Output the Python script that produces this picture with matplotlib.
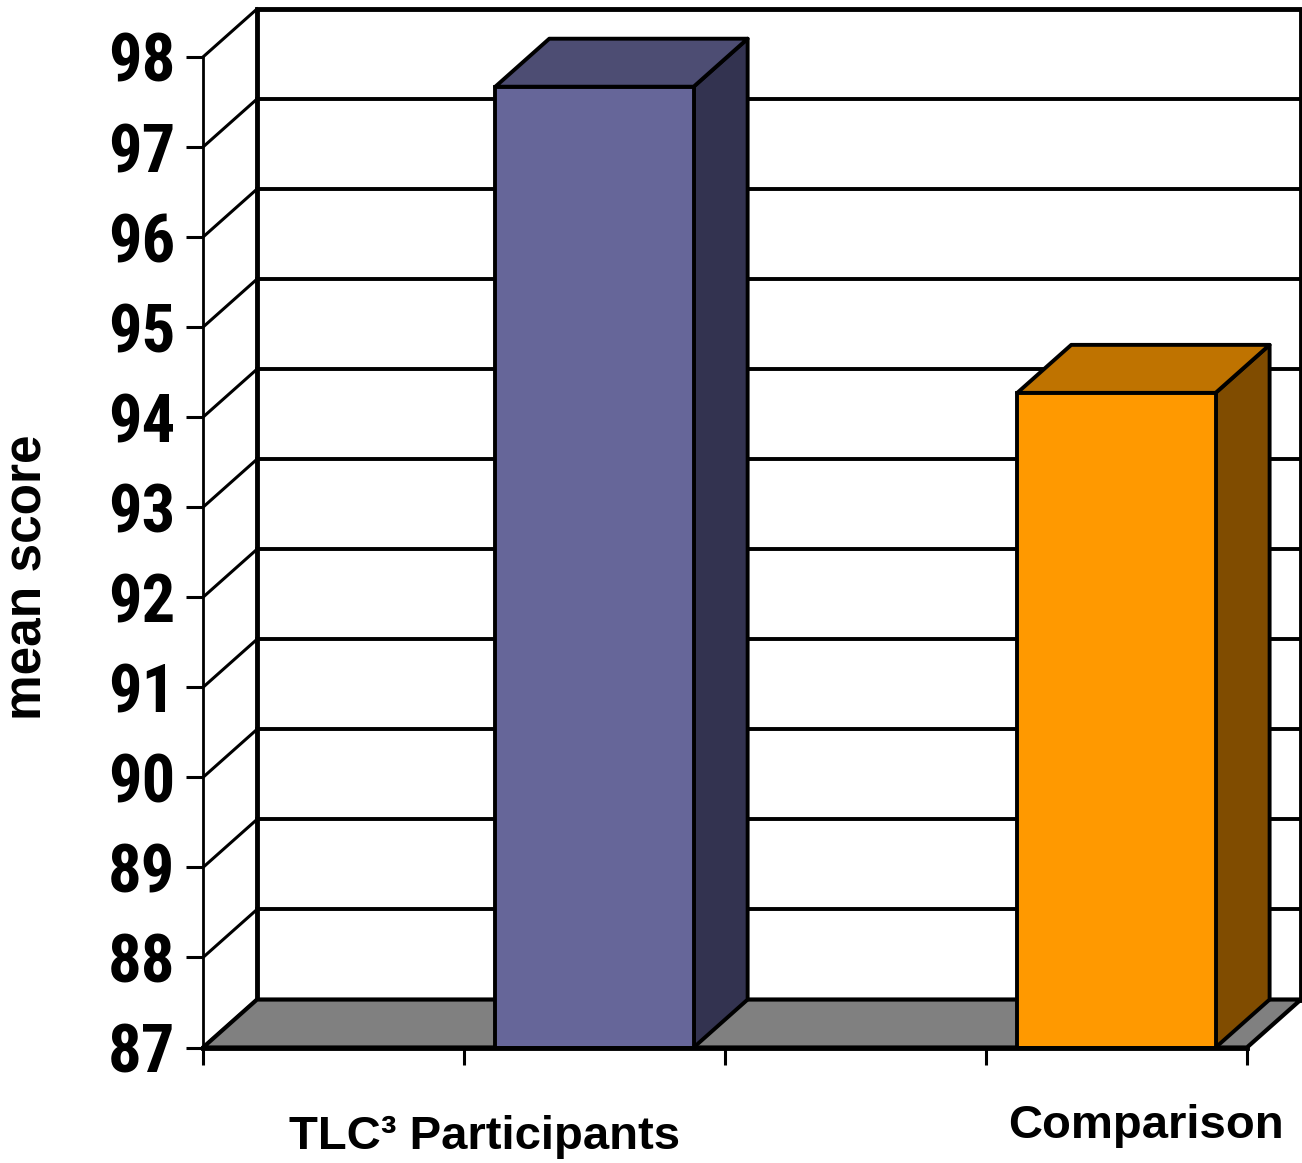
import matplotlib.pyplot as plt
from matplotlib.patches import Polygon, Rectangle

groups = ["TLC\u00b3 Participants", "Comparison"]
scores = [97.67, 94.27]
y_ticks = list(range(87, 99))

front_colors = ["#666699", "#FF9900"]
top_colors = ["#4D4D73", "#BF7300"]
side_colors = ["#333350", "#804C00"]

fig = plt.figure(figsize=(13.02, 11.63), dpi=100)
ax = fig.add_axes([0.1559, 0.0993, 0.8018, 0.8517])
ax.set_xlim(0, 2)
ax.set_ylim(87, 98)
ax.patch.set_visible(False)

# depth of the fake 3d box, in pixels, turned into data units
px_x = fig.get_figwidth() * fig.dpi * 0.8018 / 2
px_y = fig.get_figheight() * fig.dpi * 0.8517 / 11
dx = 54 / px_x
dy = 48 / px_y
base = 87

# back wall
ax.add_patch(Rectangle((dx, base + dy), 2, 11, fc="white", ec="none",
                       clip_on=False, zorder=0.5))
for v in y_ticks[1:-1]:
    ax.plot([dx, 2 + dx], [v + dy, v + dy], color="black", lw=2.8,
            clip_on=False, zorder=1)
ax.plot([dx, dx, 2 + dx, 2 + dx], [base + dy, 98 + dy, 98 + dy, base + dy],
        color="black", lw=3.5, clip_on=False, zorder=1.2, solid_joinstyle="miter")

# left side wall
for v in y_ticks:
    ax.plot([0, dx], [v, v + dy], color="black", lw=2.2, clip_on=False, zorder=1.3)

# floor
ax.add_patch(Polygon([(0, base), (2, base), (2 + dx, base + dy), (dx, base + dy)],
                     closed=True, fc="#808080", ec="black", lw=3,
                     clip_on=False, zorder=1.5, joinstyle="round"))

# bars
bar_x = [0.75, 1.75]
w = 0.38
for i, s in enumerate(scores):
    x0 = bar_x[i] - w / 2
    x1 = x0 + w
    side = [(x1, base), (x1 + dx, base + dy), (x1 + dx, s + dy), (x1, s)]
    top = [(x0, s), (x1, s), (x1 + dx, s + dy), (x0 + dx, s + dy)]
    ax.add_patch(Polygon(side, closed=True, fc=side_colors[i], ec="black",
                         lw=2.8, clip_on=False, zorder=3, joinstyle="round"))
    ax.add_patch(Polygon(top, closed=True, fc=top_colors[i], ec="black",
                         lw=2.8, clip_on=False, zorder=3, joinstyle="round"))
    ax.add_patch(Rectangle((x0, base), w, s - base, fc=front_colors[i],
                           ec="black", lw=2.8, clip_on=False, zorder=3.2,
                           joinstyle="miter"))

for sp in ["top", "right"]:
    ax.spines[sp].set_visible(False)
ax.spines["left"].set_linewidth(2)
ax.spines["bottom"].set_linewidth(3.5)
ax.spines["bottom"].set_zorder(4)

ax.set_yticks(y_ticks)
ax.set_xticks([0, 0.5, 1, 1.5, 2])
ax.set_xticklabels([])
ax.tick_params(axis="y", direction="out", length=12, width=2.2, pad=8)
ax.tick_params(axis="x", direction="out", length=12, width=2.2)
for lab in ax.get_yticklabels():
    lab.set_fontfamily(["Liberation Sans Narrow", "Roboto Condensed",
                        "Liberation Sans"])
    lab.set_fontweight("bold")
    lab.set_fontsize(48)

ax.text(0.54, 85.87, groups[0], ha="center", va="baseline", fontsize=34,
        fontweight="bold", family="Liberation Sans")
ax.text(1.807, 85.99, groups[1], ha="center", va="baseline", fontsize=34,
        fontweight="bold", family="Liberation Sans")

fig.text(28 / 1302, 1 - 577 / 1163, "mean score", rotation=90, ha="center",
         va="center", fontsize=37, fontweight="bold", family="Liberation Sans")

fig.savefig("out.png", dpi=100)
